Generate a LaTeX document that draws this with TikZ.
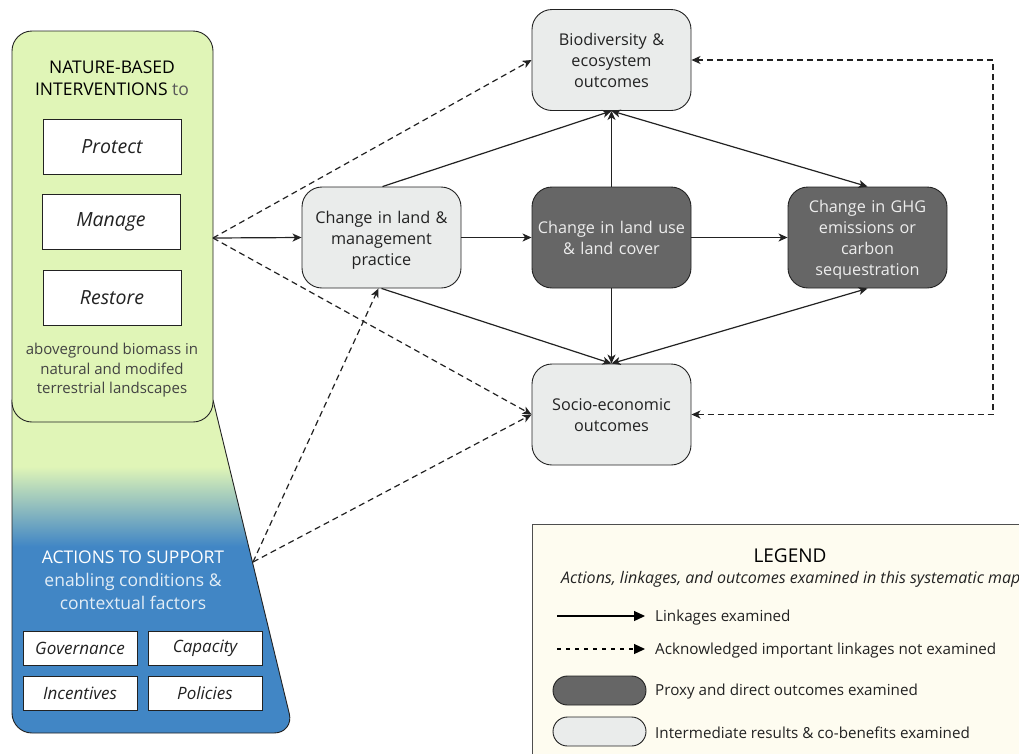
\documentclass[tikz,border=0pt]{standalone}
\usepackage{fontspec}
\setmainfont{Open Sans}
\usetikzlibrary{arrows.meta}
\definecolor{nbgreen}{HTML}{E0F5B7}
\definecolor{nbblue}{HTML}{4186C5}
\definecolor{lightnode}{HTML}{EAECEB}
\definecolor{darknode}{HTML}{666666}
\definecolor{legendbg}{HTML}{FEFCF0}
\definecolor{txt}{HTML}{222222}
\pgfdeclareverticalshading{panelshade}{100bp}{color(0bp)=(nbblue); color(53bp)=(nbblue); color(65bp)=(nbgreen); color(100bp)=(nbgreen)}
\newcommand{\lowerfirst}{\rule{0pt}{17pt}}
\tikzset{
  outbox/.style={draw=txt, line width=0.9pt, rounded corners=20pt, minimum width=159pt, minimum height=101pt, align=center, text width=157pt, inner sep=1pt, font=\fontsize{16.2}{21}\selectfont},
  lightbox/.style={outbox, fill=lightnode, text=txt},
  darkbox/.style={outbox, fill=darknode, text=white!93!black},
  whitebox/.style={draw=txt, line width=0.9pt, fill=white, minimum width=138pt, minimum height=55pt, font=\fontsize{19.5}{22}\selectfont\itshape, text=txt},
  smallbox/.style={draw=txt, line width=0.9pt, fill=white, minimum width=114pt, minimum height=34pt, font=\fontsize{17}{20}\selectfont\itshape, text=txt},
  link/.style={line width=1.2pt, draw=txt, -{Stealth[length=9pt,width=8pt,inset=2.5pt]}},
  dlink/.style={link, dash pattern=on 6pt off 4pt},
  legtext/.style={anchor=west, font=\fontsize{15.2}{18}\selectfont, text=txt, inner sep=0pt},
  pill/.style={draw=txt, line width=0.9pt, rounded corners=14.5pt, minimum width=93pt, minimum height=29pt}
}
\begin{document}
\begin{tikzpicture}[x=1pt,y=-1pt]
\useasboundingbox (0,0) rectangle (1019,753);
\fill[white] (0,0) rectangle (1019,753);
% left panel
\shadedraw[shading=panelshade, draw=txt, line width=0.9pt] (100,400) -- (213,400) [rounded corners=20pt] -- (294,733) -- (12,733) [sharp corners] -- (12,400) -- cycle;
\node[draw=txt, line width=0.9pt, fill=nbgreen, rounded corners=20pt, minimum width=201pt, minimum height=391pt] (nbi) at (112.5,226.5) {};
\node[align=center, font=\fontsize{17.5}{22}\selectfont, text=black] (nbititle) at (112,78) {NATURE-BASED\\INTERVENTIONS {\color{txt!75}to}};
\node[whitebox] (protect) at (112,146.5) {Protect};
\node[whitebox] (manage) at (111,221.5) {Manage};
\node[whitebox] (restore) at (112,297.5) {Restore};
\node[align=center, font=\fontsize{15}{19.5}\selectfont, text=txt!85] (biomass) at (112,370.5) {aboveground biomass in\\natural and modifed\\terrestrial landscapes};
\node[align=center, font=\fontsize{17.5}{23}\selectfont, text=white] (acttitle) at (133,580) {ACTIONS TO SUPPORT\\{\color{white!85!nbblue}enabling conditions \&}\\{\color{white!85!nbblue}contextual factors}};
\node[smallbox] (gov) at (80,648) {Governance};
\node[smallbox] (cap) at (205,648) {Capacity};
\node[smallbox] (inc) at (80,693) {Incentives};
\node[smallbox] (pol) at (205,693) {Policies};
\coordinate (nbiout) at (213,238);
\coordinate (supout) at (253,562);
% main nodes
\node[lightbox] (bio) at (611.5,60) {\rule{0pt}{14pt}Biodiversity \&\\ecosystem\\outcomes};
\node[lightbox] (mgmt) at (381.5,237.5) {\lowerfirst Change in land \&\\management\\practice};
\node[darkbox] (luc) at (611.5,237.5) {Change in land use\\\& land cover};
\node[darkbox] (ghg) at (867.5,237.5) {\lowerfirst Change in GHG\\emissions or\\carbon\\sequestration};
\node[lightbox] (socio) at (611.5,414.5) {\rule{0pt}{14pt}Socio-economic\\outcomes};
% connectors
\draw[link] (nbiout) -- (mgmt.west);
\draw[dlink] (nbiout) -- (bio.west);
\draw[dlink] (nbiout) -- (socio.west);
\draw[dlink] (supout) -- ([xshift=-3pt]mgmt.south);
\draw[dlink] (supout) -- (socio.west);
\draw[link] (mgmt.east) -- (luc.west);
\draw[link] (luc.east) -- (ghg.west);
\draw[link] ([xshift=1pt]mgmt.north) -- (bio.south);
\draw[link] (luc.north) -- (bio.south);
\draw[link, {Stealth[length=9pt,width=8pt,inset=2.5pt]}-{Stealth[length=9pt,width=8pt,inset=2.5pt]}] (ghg.north) -- (bio.south);
\draw[link] (mgmt.south) -- (socio.north);
\draw[link] (luc.south) -- (socio.north);
\draw[link, {Stealth[length=9pt,width=8pt,inset=2.5pt]}-{Stealth[length=9pt,width=8pt,inset=2.5pt]}] (ghg.south) -- (socio.north);
\draw[dlink, {Stealth[length=9pt,width=8pt,inset=2.5pt]}-{Stealth[length=9pt,width=8pt,inset=2.5pt]}] (socio.east) -- (993,414.5) |- (bio.east);
% legend
\node[draw=txt!80, line width=0.9pt, fill=legendbg, minimum width=520pt, minimum height=250pt, anchor=north west] (legend) at (532,524) {};
\node[font=\fontsize{19}{20}\selectfont, text=black] (legtitle) at (790,556) {LEGEND};
\node[legtext, font=\fontsize{16}{18}\selectfont\itshape] (legsub) at (561,579) {Actions, linkages, and outcomes examined in this systematic map};
\coordinate (la1) at (557,616);
\coordinate (la2) at (645,616);
\coordinate (lb1) at (557,649);
\coordinate (lb2) at (645,649);
\draw[line width=1.2pt, draw=black, -{Triangle[length=11pt,width=10pt]}] (la1) -- (la2);
\draw[line width=1.2pt, draw=black, dash pattern=on 4pt off 5pt, -{Triangle[length=11pt,width=10pt]}] (lb1) -- (lb2);
\node[legtext] (lt1) at (655,618) {Linkages examined};
\node[legtext] (lt2) at (655,651) {Acknowledged important linkages not examined};
\node[pill, fill=darknode] (pdark) at (599.5,690.5) {};
\node[pill, fill=lightnode] (plight) at (599.5,731.5) {};
\node[legtext] (lt3) at (655,692) {Proxy and direct outcomes examined};
\node[legtext] (lt4) at (655,733) {Intermediate results \& co-benefits examined};
\end{tikzpicture}
\end{document}
